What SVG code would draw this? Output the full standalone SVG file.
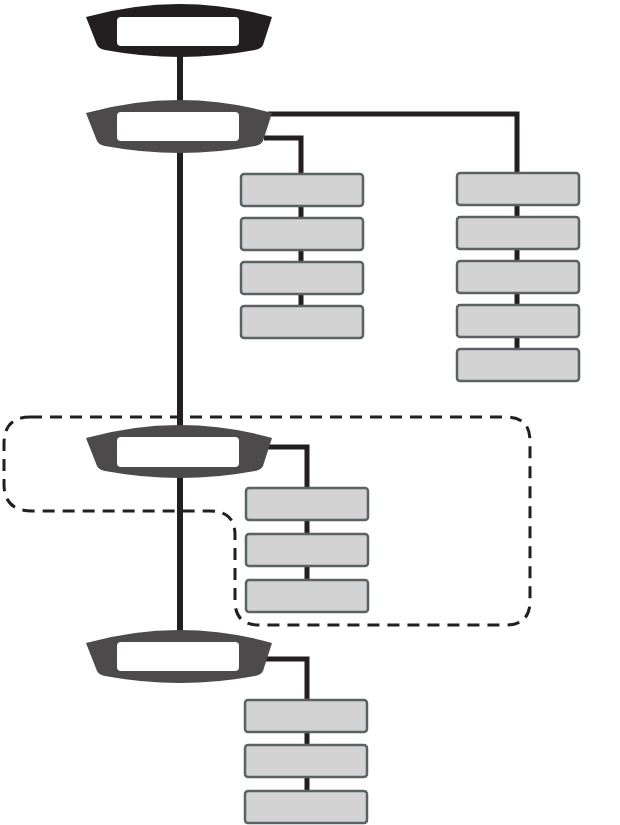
<svg xmlns="http://www.w3.org/2000/svg" width="620" height="825" viewBox="0 0 620 825">
<defs>
<style>
.conn{fill:none;stroke:#231f20;stroke-width:5;stroke-linecap:butt;stroke-linejoin:miter}
.trunk{fill:none;stroke:#231f20;stroke-width:6}
.box{fill:#d3d3d3;stroke:#5b6264;stroke-width:2.5}
.inner{fill:#ffffff}
.dark{fill:#231f20}
.grey{fill:#4d4a4b}
.dash{fill:none;stroke:#231f20;stroke-width:3;stroke-dasharray:12 8}
</style>
<path id="hub" d="M86,13 Q180,-13 272,13 L263,41 Q261,45 255,46 Q180,60 105,46 Q99,45 97,41 Z"/>
</defs>
<rect width="620" height="825" fill="#ffffff"/>
<path class="dash" d="M30,417 H506 Q530,417 530,441 V601 Q530,625 506,625 H259 Q235,625 235,601 V535 Q235,511 210,511 H32 Q4,511 4,484 V444 Q4,417 30,417 Z"/>
<g id="connectors">
<line class="trunk" x1="180" y1="50" x2="180" y2="640"/>
<polyline class="conn" points="268,114 517,114 517,174"/>
<polyline class="conn" points="264,138 301,138 301,322"/>
<line class="conn" x1="517" y1="180" x2="517" y2="365"/>
<polyline class="conn" points="266,447 307,447 307,596"/>
<polyline class="conn" points="266,659 307,659 307,808"/>
</g>
<g id="node1"><use href="#hub" x="0" y="4" class="dark"/><rect class="inner" x="117" y="17" width="122" height="29" rx="4"/></g>
<g id="node2"><use href="#hub" x="0" y="100" class="grey"/><rect class="inner" x="117" y="112" width="122" height="29" rx="4"/></g>
<g id="node3"><use href="#hub" x="0" y="425" class="grey"/><rect class="inner" x="117" y="437" width="122" height="30" rx="4"/></g>
<g id="node4"><use href="#hub" x="0" y="630" class="grey"/><rect class="inner" x="117" y="642" width="122" height="29" rx="4"/></g>
<g id="a1"><rect class="box" x="241" y="174" width="122" height="32" rx="3"/></g>
<g id="a2"><rect class="box" x="241" y="218" width="122" height="32" rx="3"/></g>
<g id="a3"><rect class="box" x="241" y="262" width="122" height="32" rx="3"/></g>
<g id="a4"><rect class="box" x="241" y="306" width="122" height="32" rx="3"/></g>
<g id="b1"><rect class="box" x="457" y="173" width="122" height="32" rx="3"/></g>
<g id="b2"><rect class="box" x="457" y="217" width="122" height="32" rx="3"/></g>
<g id="b3"><rect class="box" x="457" y="261" width="122" height="32" rx="3"/></g>
<g id="b4"><rect class="box" x="457" y="305" width="122" height="32" rx="3"/></g>
<g id="b5"><rect class="box" x="457" y="349" width="122" height="32" rx="3"/></g>
<g id="c1"><rect class="box" x="246" y="488" width="122" height="32" rx="3"/></g>
<g id="c2"><rect class="box" x="246" y="534" width="122" height="32" rx="3"/></g>
<g id="c3"><rect class="box" x="246" y="580" width="122" height="32" rx="3"/></g>
<g id="d1"><rect class="box" x="245" y="700" width="122" height="32" rx="3"/></g>
<g id="d2"><rect class="box" x="245" y="745" width="122" height="32" rx="3"/></g>
<g id="d3"><rect class="box" x="245" y="791" width="122" height="32" rx="3"/></g>
</svg>
